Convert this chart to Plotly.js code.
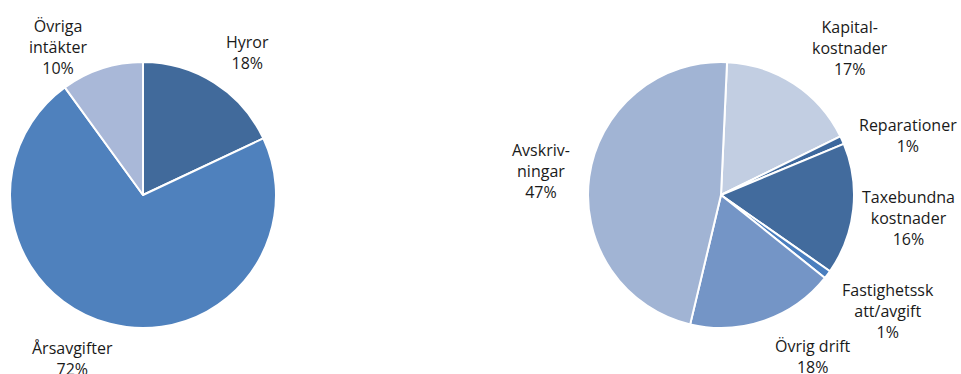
<!DOCTYPE html>
<html>
<head>
<meta charset="utf-8">
<script src="https://cdn.plot.ly/plotly-3.0.1.min.js"></script>
<style>html,body{margin:0;padding:0;background:#fff;}#chart{width:961px;height:374px;}</style>
</head>
<body>
<div id="chart"></div>
<script>
// Left pie: income
const incomeLabels = ['Hyror', 'Årsavgifter', 'Övriga<br>intäkter'];
const incomeValues = [18, 72, 10];
const incomeColors = ['#416A9B', '#4F81BD', '#A9B8D8'];

// Right pie: costs
const costLabels = ['Kapital-<br>kostnader', 'Reparationer', 'Taxebundna<br>kostnader', 'Fastighetssk<br>att/avgift', 'Övrig drift', 'Avskriv-<br>ningar'];
const costValues = [17, 1, 16, 1, 18, 47];
const costColors = ['#C2CEE2', '#3D689D', '#426B9D', '#4A7EBE', '#7495C6', '#A1B4D4'];

// Label anchor positions (pixels, center of text block)
const incomeLabelPos = [[247, 52], [72, 358], [58, 47]];
const costLabelPos = [[850, 48], [908, 135], [908, 218], [888, 311], [813, 356], [541, 171]];

const W = 961, H = 374;
const font = {family: 'Open Sans, Noto Sans, sans-serif', size: 16, color: '#1a1a1a'};

function pct(vals, i) {
  const s = vals.reduce((a, b) => a + b, 0);
  return Math.round(vals[i] / s * 100) + '%';
}

const traces = [
  {
    type: 'pie', values: incomeValues, labels: incomeLabels, sort: false,
    direction: 'clockwise', rotation: 0, textinfo: 'none', hoverinfo: 'label+percent',
    marker: {colors: incomeColors, line: {color: '#ffffff', width: 2}},
    domain: {x: [10 / W, 276 / W], y: [(H - 328) / H, (H - 62) / H]},
    showlegend: false
  },
  {
    type: 'pie', values: costValues, labels: costLabels, sort: false,
    direction: 'clockwise', rotation: 2.6, textinfo: 'none', hoverinfo: 'label+percent',
    marker: {colors: costColors, line: {color: '#ffffff', width: 2}},
    domain: {x: [588 / W, 854 / W], y: [(H - 328) / H, (H - 62) / H]},
    showlegend: false
  }
];

const annotations = [];
incomeLabels.forEach((l, i) => {
  annotations.push({
    xref: 'paper', yref: 'paper', x: incomeLabelPos[i][0] / W, y: 1 - incomeLabelPos[i][1] / H,
    text: l + '<br>' + pct(incomeValues, i), showarrow: false, font: font,
    xanchor: 'center', yanchor: 'middle', align: 'center'
  });
});
costLabels.forEach((l, i) => {
  annotations.push({
    xref: 'paper', yref: 'paper', x: costLabelPos[i][0] / W, y: 1 - costLabelPos[i][1] / H,
    text: l + '<br>' + pct(costValues, i), showarrow: false, font: font,
    xanchor: 'center', yanchor: 'middle', align: 'center'
  });
});

const layout = {
  width: W, height: H,
  margin: {l: 0, r: 0, t: 0, b: 0},
  paper_bgcolor: '#ffffff', plot_bgcolor: '#ffffff',
  showlegend: false,
  annotations: annotations
};

Plotly.newPlot('chart', traces, layout, {displayModeBar: false, staticPlot: true});
</script>
</body>
</html>
